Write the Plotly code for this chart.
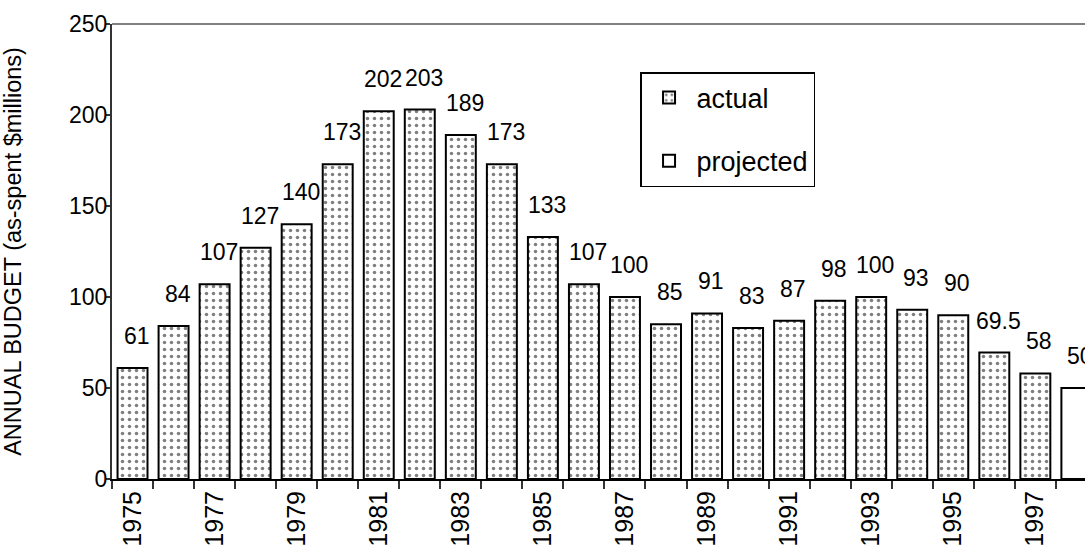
import plotly.graph_objects as go

# ---- data ----
actual_years = list(range(1975, 1998))
actual_values = [61, 84, 107, 127, 140, 173, 202, 203, 189, 173, 133, 107, 100,
                 85, 91, 83, 87, 98, 100, 93, 90, 69.5, 58]
projected_years = [1998]
projected_values = [50]
y_ticks = [0, 50, 100, 150, 200, 250]
label_years = [y for y in actual_years + projected_years if y % 2 == 1]

FONT = "Arial, 'Liberation Sans', sans-serif"
all_years = actual_years + projected_years
all_values = actual_values + projected_values

fig = go.Figure()
fig.add_trace(go.Bar(
    x=actual_years, y=actual_values, name="actual", width=0.73,
    marker=dict(color="white", line=dict(color="black", width=2),
                pattern=dict(shape=".", fgcolor="black", bgcolor="white",
                             size=7, solidity=0.2, fillmode="overlay")),
    legendgroup="a",
))
fig.add_trace(go.Bar(
    x=projected_years, y=projected_values, name="projected", width=0.73,
    marker=dict(color="white", line=dict(color="black", width=2)),
    legendgroup="p",
))

for xv, yv in zip(all_years, all_values):
    fig.add_annotation(x=xv, y=yv, text=f"{yv:g}", showarrow=False,
                       yanchor="bottom", xanchor="center", yshift=17, xshift=4,
                       font=dict(family=FONT, size=23, color="black"))

fig.update_layout(
    width=1085, height=551,
    margin=dict(l=112, r=0, t=24, b=72),
    paper_bgcolor="white", plot_bgcolor="white",
    barmode="overlay",
    font=dict(family=FONT, size=22, color="black"),
    showlegend=True,
    legend=dict(x=0.5427, y=0.8945, xanchor="left", yanchor="top",
                bordercolor="black", borderwidth=1.5, bgcolor="white",
                font=dict(family=FONT, size=27, color="black"),
                itemwidth=45,
                traceorder="grouped", tracegroupgap=25),
    shapes=[dict(type="line", xref="paper", yref="paper", x0=0, x1=1, y0=1, y1=1,
                 line=dict(color="#808080", width=2))],
)
fig.update_xaxes(
    range=[1974.5, 1998.21],
    tickmode="array", tickvals=label_years, ticktext=[str(y) for y in label_years],
    tickangle=-90, ticks="",
    showline=True, linecolor="black", linewidth=2, showgrid=False, zeroline=False,
    tickfont=dict(family=FONT, size=25, color="black"),
    minor=dict(tickmode="array", tickvals=[y - 0.5 for y in all_years],
               ticks="outside", ticklen=8, tickcolor="#333333", tickwidth=1.5,
               showgrid=False),
)
fig.update_yaxes(
    range=[0, 250], tickmode="array", tickvals=y_ticks,
    ticks="outside", ticklen=5, tickcolor="#333333", tickwidth=1.5,
    ticklabelstandoff=-7,
    showline=True, linecolor="#333333", linewidth=2, showgrid=False, zeroline=False,
    tickfont=dict(family=FONT, size=23, color="black"),
    title=dict(text="ANNUAL BUDGET (as-spent $millions)", standoff=52,
               font=dict(family=FONT, size=23.5, color="black")),
)

fig.write_html("out.html", config={"displayModeBar": False},
               post_script="document.body.style.margin='0';")
